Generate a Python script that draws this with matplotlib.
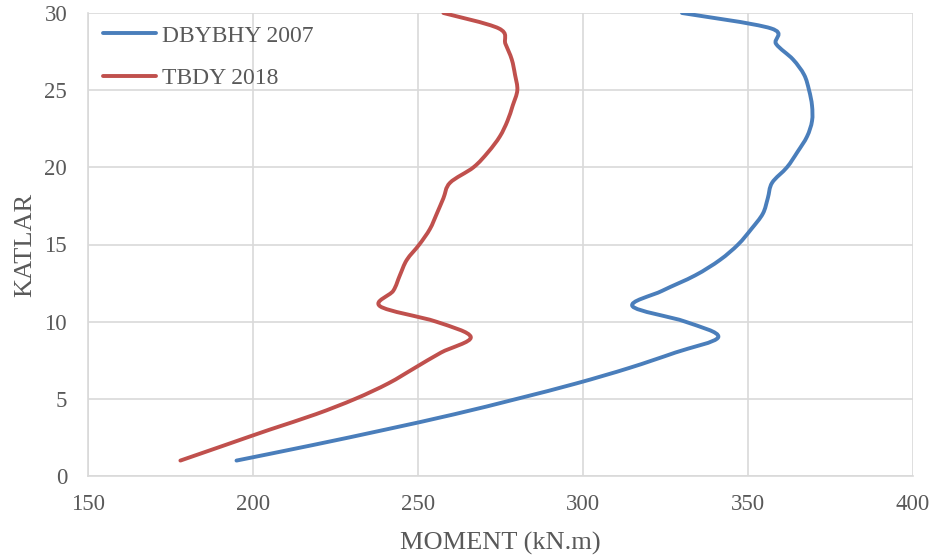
import numpy as np
import matplotlib.pyplot as plt
from matplotlib.path import Path
from matplotlib.patches import PathPatch
from matplotlib.lines import Line2D

# Storey numbers and bending moments (kN.m)
katlar = list(range(1, 31))
dbybhy_2007 = [195, 218, 240, 261, 280, 298, 314, 328, 341, 331,
               315, 324, 334, 341.5, 347, 351, 354.5, 356, 357.3, 361.8,
               365, 367.9, 369.4, 369.4, 368.5, 367, 363.6, 358.5, 357, 330]
tbdy_2018 = [178, 191.5, 205, 219, 231, 241, 249, 257, 266, 255.5,
             238.5, 242.5, 244.5, 246.6, 250.4, 253.6, 255.7, 257.7, 259.7, 266.8,
             271.3, 274.8, 277.1, 278.7, 280.1, 279.4, 278.4, 276.5, 274.5, 257.7]

x_ticks = [150, 200, 250, 300, 350, 400]
y_ticks = [0, 5, 10, 15, 20, 25, 30]

BLUE = "#4a7ebb"
RED = "#c0504d"
GRID = "#d9d9d9"
TEXT = "#595959"


def smooth_path(xs, ys):
    """Cubic Bezier path through every point (spreadsheet-style smoothed line)."""
    pts = np.column_stack([xs, ys]).astype(float)
    n = len(pts)
    verts = [pts[0]]
    codes = [Path.MOVETO]
    for i in range(n - 1):
        p0 = pts[i - 1] if i > 0 else pts[i]
        p1 = pts[i]
        p2 = pts[i + 1]
        p3 = pts[i + 2] if i + 2 < n else pts[i + 1]
        c1 = p1 + (p2 - p0) / 6.0
        c2 = p2 - (p3 - p1) / 6.0
        verts += [c1, c2, p2]
        codes += [Path.CURVE4] * 3
    return Path(verts, codes)


plt.rcParams["font.family"] = "Liberation Serif"

fig = plt.figure(figsize=(9.35, 5.58), dpi=100)
ax = fig.add_axes([88 / 935, 82 / 558, 825 / 935, 463 / 558])

for xs, color in [(dbybhy_2007, BLUE), (tbdy_2018, RED)]:
    patch = PathPatch(smooth_path(xs, katlar), facecolor="none", edgecolor=color,
                      lw=2.8, capstyle="round", joinstyle="round", zorder=3)
    ax.add_patch(patch)

ax.set_xlim(150, 400)
ax.set_ylim(0, 30)
ax.set_xticks(x_ticks)
ax.set_yticks(y_ticks)
ax.grid(True, color=GRID, lw=1.2)
ax.set_axisbelow(True)
for side, spine in ax.spines.items():
    if side in ("left", "bottom"):
        spine.set_color(GRID)
        spine.set_linewidth(1.2)
    else:
        spine.set_visible(False)
ax.tick_params(length=0, labelsize=16.5, labelcolor=TEXT)
ax.tick_params(axis="x", pad=13)
ax.tick_params(axis="y", pad=15)

ax.set_xlabel("MOMENT (kN.m)", fontsize=19, color=TEXT, labelpad=12)
ax.set_ylabel("KATLAR", fontsize=19, color=TEXT, labelpad=6)

handles = [Line2D([], [], color=BLUE, lw=2.8, solid_capstyle="round"),
           Line2D([], [], color=RED, lw=2.8, solid_capstyle="round")]
leg = ax.legend(handles, ["DBYBHY 2007", "TBDY 2018"], loc="upper left",
                bbox_to_anchor=(103 / 935, 1 - 25 / 558), bbox_transform=fig.transFigure,
                frameon=False, fontsize=17, handlelength=2.25, handletextpad=0.25,
                labelspacing=0.9, borderpad=0, borderaxespad=0)
for t in leg.get_texts():
    t.set_color(TEXT)

fig.savefig("out.png", dpi=100)
